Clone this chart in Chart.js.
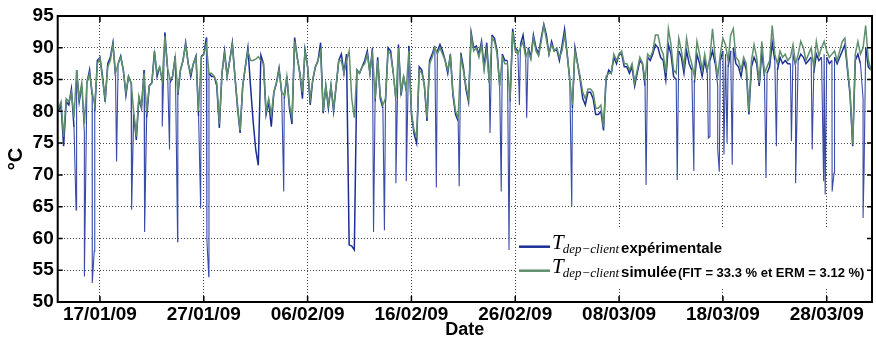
<!DOCTYPE html>
<html>
<head>
<meta charset="utf-8">
<script src="https://cdn.jsdelivr.net/npm/chart.js@4.4.1/dist/chart.umd.min.js"></script>
<style>
  html, body { margin: 0; padding: 0; background: #fff; }
  #wrap { width: 876px; height: 338px; }
</style>
</head>
<body>
<div id="wrap"><canvas id="chart" width="876" height="338"></canvas></div>
<script>
// x values are days counted from 01/01/09 00:00, one sample every 6 hours
const START_DAY = 12.0;
const STEP_DAY = 0.25;
const X_MIN = 11.93;
const X_MAX = 90.36;

const tickDays = [16, 26, 36, 46, 56, 66, 76, 86];
const tickLabels = ['17/01/09', '27/01/09', '06/02/09', '16/02/09', '26/02/09', '08/03/09', '18/03/09', '28/03/09'];

// simulated supply temperature (°C)
const simulated = [
  80.5, 81.5, 76, 82,   81.5, 83, 79, 86.5,   82, 84.5, 78, 84.5,   86, 83, 81, 87.5,
  88.4, 85, 82, 87,     88, 90.5, 86, 87.5,   88.5, 86.5, 83, 85.5, 84.5, 80, 76, 82.4,
  80.8, 86, 80, 84,     84.5, 89, 86, 87,     85, 91.8, 87, 85,     85.5, 88.5, 83, 86.5,
  88, 90.5, 87.5, 86,   87.5, 88.5, 80, 88.5, 89, 90.5, 86, 86,     85.5, 84.5, 78, 86,
  89, 85.5, 88, 90.5,   85.5, 81, 77, 84,     87, 89.5, 88, 88,     88.2, 88.6, 88, 87.5,
  80, 82, 79.5, 83,     84.5, 86.5, 83, 82.5, 85.5, 81, 79, 91,     88.5, 86, 83, 89.5,
  87, 82, 85, 87,       88, 89.5, 80, 84,     81, 84, 80.5, 84,     88, 88, 86, 88,
  89.5, 82, 79, 86.5,   86, 87, 87.5, 89,     86, 89.5, 82, 88,     82.5, 81, 82, 89.5,
  89, 86, 82, 90,       83, 85.5, 83.5, 89.5, 80, 77, 76, 86.5,     86, 84, 79, 87.5,
  88.5, 90, 89, 90,     89, 88, 86.5, 88.5,   83, 80, 79, 88.5,     86.5, 84, 82, 92,
  89.5, 90, 88.5, 90.5, 86.5, 89.5, 84.5, 91.5, 91, 89, 84, 88.5,   87.5, 87.5, 82, 92.5,
  89.5, 89, 90, 91,     88.5, 89.5, 88.2, 91.5, 89.5, 88.7, 91, 93.5, 91.3, 89, 90.5, 89.5,
  90, 88.5, 89.5, 92,   89, 85, 81, 89.5,     87.5, 85.5, 83, 82,   83.5, 83.5, 83, 80.5,
  80.5, 81, 77.5, 85.5, 86, 86, 89, 88,       89, 89.5, 87.5, 87.5, 86.5, 87.5, 84.5, 86.5,
  88.5, 87.6, 85, 89,   88.5, 89.5, 92, 92,   90, 89, 86, 93,       90.5, 86.5, 86, 91.5,
  89.5, 87, 91.5, 89,   87.5, 85.5, 91, 89,   86.5, 89, 86.5, 88.5, 93, 88.5, 85.5, 89,
  91.5, 90.5, 88, 92,   93, 88.5, 88, 86.5,   88.5, 87.5, 80, 88,   90.5, 88.5, 84.5, 91,
  86, 87, 88, 93.5,     89, 87.5, 89.5, 88.5, 89, 88, 88.5, 90.5,   87.5, 89, 91, 90,
  88, 89, 90, 87,       91, 88.7, 90, 91,     89.5, 88.5, 89, 89.5, 88, 89.5, 91, 91.5,
  87, 83, 74.8, 89,     91, 89, 90, 93.5,     88.2, 86.5
];

// measured supply temperature (°C)
const measured = [
  80, 81, 74.5, 81.5,   81, 83.5, 77.5, 86.5, 81.5, 84, 76.5, 84.5, 86.5, 82.5, 80, 88,
  88.5, 85.5, 81.5, 87.5, 88.5, 90.8, 85.5, 87.5, 88.7, 86.5, 82.5, 85.5, 84.5, 79.5, 75.5, 82,
  80.5, 86.5, 79, 84,   84.5, 89.5, 85.5, 87, 84.5, 92.4, 87, 84.5, 85.5, 88.7, 82.5, 86.5,
  88, 90.8, 87.5, 85.5, 87.5, 88.7, 79.2, 88.7, 89, 91.6, 86, 85.5, 85.5, 84, 77.4, 86,
  89.5, 85.5, 88, 90.8, 85.5, 80.5, 76.6, 84, 87, 90, 84, 78.5,     74, 71.5, 88.8, 87.5,
  79.5, 81.5, 77.6, 83, 84.5, 86.8, 83, 82, 85.5, 80.5, 78, 91.6,   88.5, 86, 82, 89.7,
  87, 81, 85, 87,       88, 90.8, 79.7, 84, 80.5, 84, 80, 84,       88, 89, 86, 89,
  59, 58.8, 58.2, 86.5, 86, 87, 88, 89.5,   86, 90, 81.5, 88.5,     82, 80.5, 81.5, 90,
  89.5, 86, 81.5, 90.5, 82.5, 85.5, 83, 90.3, 79.5, 76.5, 75, 87,   86.5, 84, 78.5, 88,
  89, 90.3, 89.5, 90.5, 89.5, 88, 86, 89,   82.5, 79.5, 78.5, 89.2, 87, 83.5, 81.5, 92.4,
  90, 90.3, 89, 91,     87, 90.8, 84.5, 92, 91.5, 89.5, 84, 89,     88, 88, 81.5, 93,
  90, 89.5, 90.5, 92,   89, 90, 88.5, 92,   90, 89, 91.5, 93.7,     92, 89, 91, 89.5,
  89.7, 88, 90.3, 92.9, 89, 85, 80.5, 90,   87.5, 85, 82, 81,       83, 83, 82, 79.5,
  79.5, 80, 77, 85,     86.5, 86, 88.5, 87.5, 89, 89, 87, 87,       86, 87, 84, 86,
  88, 87.5, 84, 88.5,   88, 89, 90.5, 90,   88.5, 88, 85, 90.5,     89, 85.5, 85, 89.5,
  88.5, 86, 89.5, 87.5, 86.5, 84.5, 89, 87.5, 85.5, 88, 86, 88,     89.5, 87.5, 84, 88,
  89.5, 89, 87, 89.5,   90, 87.5, 87, 85.5, 88, 86.5, 79.5, 87,     88.5, 87.5, 84, 89.5,
  85.5, 86, 87, 90.8,   88, 86.5, 88.5, 87.5, 88, 87.5, 87.5, 89,   87, 88, 89, 88.5,
  87.5, 88, 88.5, 86,   89, 88, 88.5, 89,   88.5, 87.5, 88, 88.5,   87.5, 88.5, 89.5, 90.5,
  86.5, 82.5, 74.5, 88, 89, 87.5, 82, 90,   87, 86.5
];

// short drops in the measured series
const dropDays = [13.7, 14.5, 15.26, 15.45, 17.6, 19.05, 20.3, 22.0, 22.7, 23.48, 25.7, 26.3, 26.48,
  33.7, 42.35, 43.4, 44.5, 45.5, 48.4, 50.6, 53.57, 54.65, 55.4, 56.4, 57.1, 61.44, 68.6,
  71.6, 73.2, 74.6, 74.72, 75.5, 75.65, 76.1, 76.4, 76.9, 80.15, 81.15, 82.6, 83.0, 84.6,
  85.7, 85.85, 86.52, 86.7, 89.5, 89.6];
const dropValues = [64.5, 54, 53, 58, 72.1, 64.5, 61, 77.6, 74, 59.5, 64.7, 59.7, 54,
  67.4, 61, 61.3, 68.7, 69, 68, 68.2, 76.6, 67.4, 58.2, 81, 79, 65, 68.4,
  69.2, 70.6, 75.8, 76, 74, 70.5, 73.2, 75, 71.6, 69.5, 74.5, 75.3, 68.7, 74,
  69, 66.9, 67.4, 70.3, 63.2, 71];

const legendSymbol = 'T';
const legendSub = 'dep\u2212client';
const seriesNames = ['expérimentale', 'simulée'];
const fitNote = '(FIT = 33.3 % et ERM = 3.12 %)';

const BLUE = '#1c2f96';
const BLUE_THIN = '#3a4ca8';
const GREEN = '#5f8f6c';
const SANS = '"Liberation Sans", Arial, sans-serif';
const SERIF = '"Liberation Serif", "Times New Roman", serif';

const simPoints = simulated.map((v, i) => ({ x: START_DAY + i * STEP_DAY, y: v }));
const expPoints = measured.map((v, i) => ({ x: START_DAY + i * STEP_DAY, y: v }))
  .concat(dropDays.map((d, i) => ({ x: d, y: dropValues[i] })))
  .sort((a, b) => a.x - b.x);

// segments going into or out of a short drop are drawn thinner
const isDrop = p => dropDays.includes(p.parsed.x);
const dropSegment = c => isDrop(c.p0) || isDrop(c.p1);

// frame, inward ticks and the two-line legend
const framePlugin = {
  id: 'frame',
  afterDraw(chart) {
    const { ctx, chartArea: a, scales } = chart;
    ctx.save();

    // legend
    const bx = a.right - 355;
    ctx.fillStyle = '#fff';
    ctx.fillRect(bx, a.bottom - 73, 354, 58);
    const rows = [a.bottom - 55.3, a.bottom - 31.3];
    const colors = [BLUE, GREEN];
    rows.forEach((ly, i) => {
      ctx.strokeStyle = colors[i];
      ctx.lineWidth = 2.5;
      ctx.beginPath();
      ctx.moveTo(bx + 2, ly);
      ctx.lineTo(bx + 33, ly);
      ctx.stroke();
      ctx.fillStyle = '#000';
      ctx.textBaseline = 'alphabetic';
      ctx.textAlign = 'left';
      let x = bx + 35;
      ctx.font = 'italic 21px ' + SERIF;
      ctx.fillText(legendSymbol, x, ly + 2);
      x += ctx.measureText(legendSymbol).width - 1;
      ctx.font = 'italic 13px ' + SERIF;
      ctx.fillText(legendSub, x, ly + 6.5);
      x += ctx.measureText(legendSub).width + 2;
      ctx.font = 'bold 15px ' + SANS;
      ctx.fillText(seriesNames[i], x, ly + 6.5);
      x += ctx.measureText(seriesNames[i]).width + 1;
      if (i === 1) {
        ctx.font = 'bold 13px ' + SANS;
        ctx.fillText(fitNote, x, ly + 6.5);
      }
    });

    // box around the plot
    ctx.strokeStyle = '#000';
    ctx.lineWidth = 2;
    ctx.strokeRect(a.left, a.top, a.right - a.left, a.bottom - a.top);

    // inward tick marks
    ctx.lineWidth = 1.5;
    ctx.beginPath();
    scales.y.ticks.forEach(t => {
      const py = scales.y.getPixelForValue(t.value);
      ctx.moveTo(a.left, py); ctx.lineTo(a.left + 5, py);
      ctx.moveTo(a.right, py); ctx.lineTo(a.right - 5, py);
    });
    scales.x.ticks.forEach(t => {
      const px = scales.x.getPixelForValue(t.value);
      ctx.moveTo(px, a.bottom); ctx.lineTo(px, a.bottom - 6);
      ctx.moveTo(px, a.top); ctx.lineTo(px, a.top + 6);
    });
    ctx.stroke();
    ctx.restore();
  }
};

const ctx = document.getElementById('chart').getContext('2d');
new Chart(ctx, {
  type: 'line',
  data: {
    datasets: [
      {
        label: seriesNames[1],
        data: simPoints,
        borderColor: GREEN,
        borderWidth: 1.5,
        pointRadius: 0,
        tension: 0,
        order: 0
      },
      {
        label: seriesNames[0],
        data: expPoints,
        borderColor: BLUE,
        borderWidth: 1.5,
        pointRadius: 0,
        tension: 0,
        order: 1,
        segment: {
          borderWidth: c => dropSegment(c) ? 1.1 : undefined,
          borderColor: c => dropSegment(c) ? BLUE_THIN : undefined
        }
      }
    ]
  },
  options: {
    responsive: false,
    animation: false,
    layout: { padding: { top: 16, right: 4, left: 0, bottom: 0 } },
    plugins: {
      legend: { display: false },
      tooltip: { enabled: false }
    },
    scales: {
      x: {
        type: 'linear',
        min: X_MIN,
        max: X_MAX,
        afterBuildTicks: s => { s.ticks = tickDays.map(v => ({ value: v })); },
        afterFit: s => { s.height = 36; },
        ticks: {
          callback: (v, i) => tickLabels[i],
          autoSkip: false,
          maxRotation: 0,
          padding: 1,
          color: '#000',
          font: { family: SANS, size: 19, weight: 'bold' }
        },
        grid: { color: '#444', lineWidth: 1, drawTicks: false },
        border: { display: false, dash: [1, 2] },
        title: {
          display: true,
          text: 'Date',
          color: '#000',
          padding: 0,
          font: { family: SANS, size: 18, weight: 'bold', lineHeight: 0.9 }
        }
      },
      y: {
        min: 50,
        max: 95,
        afterFit: s => { s.width = 57.7; },
        ticks: {
          stepSize: 5,
          padding: 4,
          color: '#000',
          font: { family: SANS, size: 19, weight: 'bold' }
        },
        grid: { color: '#444', lineWidth: 1, drawTicks: false },
        border: { display: false, dash: [1, 2] },
        title: {
          display: true,
          text: '°C',
          color: '#000',
          padding: { top: 4, bottom: 0 },
          font: { family: SANS, size: 20, weight: 'bold', lineHeight: 1.2 }
        }
      }
    }
  },
  plugins: [framePlugin]
});
</script>
</body>
</html>
